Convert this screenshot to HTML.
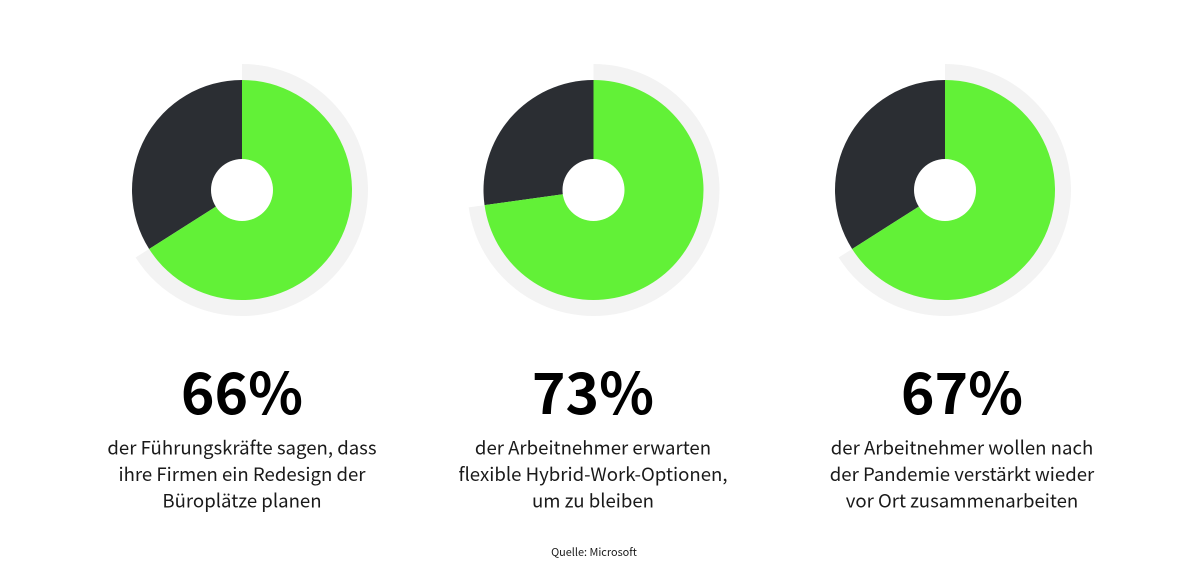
<!DOCTYPE html>
<html lang="de">
<head>
<meta charset="utf-8">
<title>Hybrid Work Umfrage</title>
<style>
html,body{margin:0;padding:0;background:#fff;width:1199px;height:580px;overflow:hidden}
svg{display:block;position:absolute;left:0;top:0}
text{font-family:"Noto Sans CJK JP","Liberation Sans",sans-serif;fill:#111;text-anchor:middle}
.big{font-size:57px;font-weight:700;fill:#000}
.desc{font-size:18.6px;font-weight:400;fill:#1a1a1a}
.src{font-size:10.9px;fill:#1a1a1a}
</style>
</head>
<body>
<svg id="chart" width="1199" height="580" viewBox="0 0 1199 580" xmlns="http://www.w3.org/2000/svg"></svg>
<script>
const categories = ["fuehrungskraefte", "arbeitnehmer-flexibel", "arbeitnehmer-vor-ort"];
const values = [66, 72.8, 66];
const valueLabels = ["66%", "73%", "67%"];
const descriptions = [
  ["der Führungskräfte sagen, dass", "ihre Firmen ein Redesign der", "Büroplätze planen"],
  ["der Arbeitnehmer erwarten", "flexible Hybrid-Work-Optionen,", "um zu bleiben"],
  ["der Arbeitnehmer wollen nach", "der Pandemie verstärkt wieder", "vor Ort zusammenarbeiten"]
];
const sourceLabel = "Quelle: Microsoft";

const NS = "http://www.w3.org/2000/svg";
const svg = document.getElementById("chart");
const pieCenterX = i => 242 + i * 351.5;
const textCenterX = i => [242, 593, 962][i];
const CY = 190, R = 110, HOLE = 31, RING = 126;
const angle = v => v / 100 * 2 * Math.PI;
const px = (cx, r, v) => cx + r * Math.sin(angle(v));
const py = (r, v) => CY - r * Math.cos(angle(v));

function sectorPath(cx, r, from, to) {
  const large = (to - from) > 50 ? 1 : 0;
  return `M${cx} ${CY}L${px(cx, r, from)} ${py(r, from)}A${r} ${r} 0 ${large} 1 ${px(cx, r, to)} ${py(r, to)}Z`;
}

categories.forEach((cat, i) => {
  const v = values[i];
  const cx = pieCenterX(i);

  const ring = document.createElementNS(NS, "path");
  ring.setAttribute("d", sectorPath(cx, RING, 0, v));
  ring.setAttribute("fill", "#f3f3f3");
  
  
  svg.appendChild(ring);

  const rest = document.createElementNS(NS, "path");
  rest.setAttribute("d", sectorPath(cx, R, v, 100));
  rest.setAttribute("fill", "#2b2e33");
  
  
  svg.appendChild(rest);

  const main = document.createElementNS(NS, "path");
  main.setAttribute("d", sectorPath(cx, R, 0, v));
  main.setAttribute("fill", "#62f137");
  
  
  svg.appendChild(main);

  const hole = document.createElementNS(NS, "circle");
  hole.setAttribute("cx", cx);
  hole.setAttribute("cy", CY);
  hole.setAttribute("r", HOLE);
  hole.setAttribute("fill", "#fff");
  
  
  svg.appendChild(hole);

  const big = document.createElementNS(NS, "text");
  big.setAttribute("x", textCenterX(i));
  big.setAttribute("y", 414);
  big.setAttribute("class", "big");
  big.textContent = valueLabels[i];
  
  
  svg.appendChild(big);

  descriptions[i].forEach((line, j) => {
    const t = document.createElementNS(NS, "text");
    t.setAttribute("x", textCenterX(i));
    t.setAttribute("y", 454.5 + j * 26.5);
    t.setAttribute("class", "desc");
    t.textContent = line;
    
    
    svg.appendChild(t);
  });
});

const src = document.createElementNS(NS, "text");
src.setAttribute("x", 594);
src.setAttribute("y", 556);
src.setAttribute("class", "src");
src.textContent = sourceLabel;


svg.appendChild(src);
</script>
</body>
</html>
